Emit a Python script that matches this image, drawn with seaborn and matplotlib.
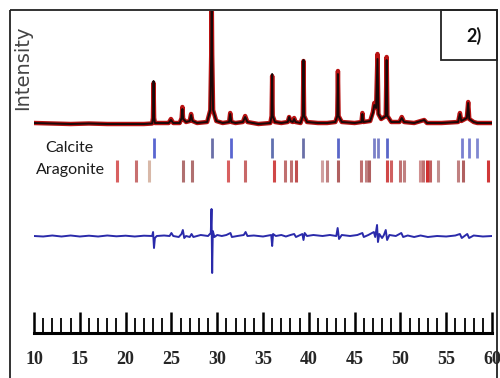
import matplotlib
matplotlib.use("Agg")

import matplotlib.pyplot as plt
from matplotlib.patches import Rectangle
import numpy as np
import pandas as pd
import seaborn as sns

# ── data (2theta in degrees, intensity in arbitrary units) ─────────────────
tth_obs = [10.0, 12.0, 14.0, 16.0, 18.0, 20.0, 22.0, 22.9, 22.99, 23.05, 23.11, 23.2,
           24.7, 24.95, 25.2, 25.9, 26.12, 26.2, 26.28, 26.6, 27.0, 27.15, 27.3, 27.8,
           28.9, 29.25, 29.35, 29.4, 29.45, 29.55, 29.9, 30.6, 31.3, 31.42, 31.55, 32.0,
           32.8, 33.05, 33.3, 34.5, 35.8, 35.94, 36.0, 36.06, 36.3, 37.0, 37.7, 37.85,
           38.0, 38.25, 38.4, 38.55, 39.1, 39.35, 39.42, 39.49, 39.8, 41.0, 42.0, 42.9,
           43.11, 43.18, 43.25, 43.6, 45.0, 45.75, 45.85, 45.95, 46.7, 47.0, 47.15, 47.35,
           47.5, 47.6, 47.9, 48.4, 48.5, 48.58, 49.0, 49.9, 50.15, 50.4, 51.5, 52.6,
           52.9, 54.5, 56.3, 56.5, 56.65, 57.25, 57.4, 57.52, 58.0, 58.4, 60.0]
i_obs = [1, 0.5, 0, 0.5, 0, 0, 0, 0.5, 6, 41, 6, 1,
         1, 5, 1, 1, 6, 17, 5, 2, 3, 10, 3, 1,
         2, 14, 70, 130, 70, 14, 3, 1, 2, 11, 2, 1,
         2, 8, 2, 0, 1, 8, 48, 8, 2, 1, 2, 7,
         3, 2, 6, 2, 1, 8, 63, 8, 2, 1, 1, 2,
         8, 53, 8, 2, 1, 2, 11, 2, 3, 12, 21, 16,
         70, 10, 5, 8, 67, 8, 2, 2, 7, 2, 1, 4,
         1, 1, 2, 11, 3, 6, 22, 5, 2, 1, 1]
i_calc = [1, 0.5, 0, 0.5, 0, 0, 0, 0.5, 6, 43, 6, 1,
          1, 4, 1, 1, 6, 15, 5, 2, 3, 9, 3, 1,
          2, 14, 70, 135, 70, 14, 3, 1, 2, 10, 2, 1,
          2, 7, 2, 0, 1, 8, 50, 8, 2, 1, 2, 7,
          3, 2, 5, 2, 1, 8, 64, 8, 2, 1, 1, 2,
          8, 50, 8, 2, 1, 2, 10, 2, 3, 11, 19, 16,
          65, 10, 5, 8, 64, 8, 2, 2, 6, 2, 1, 4,
          1, 1, 2, 10, 3, 6, 21, 5, 2, 1, 1]

tth_diff = [10.0, 11.0, 12.0, 13.0, 14.0, 15.0, 16.0, 17.0, 18.0, 19.0, 20.0, 21.0,
            22.0, 22.9, 23.0, 23.1, 23.2, 23.4, 24.2, 24.8, 25.0, 25.2, 25.8, 26.1,
            26.25, 26.4, 26.6, 27.0, 27.2, 27.4, 28.2, 29.0, 29.3, 29.38, 29.45, 29.52,
            29.7, 30.0, 30.5, 31.0, 31.45, 31.6, 32.2, 32.9, 33.1, 33.3, 34.0, 35.0,
            35.9, 36.0, 36.1, 36.4, 37.0, 37.5, 38.0, 38.4, 38.6, 39.3, 39.42, 39.55,
            39.8, 40.5, 41.5, 42.3, 43.0, 43.15, 43.3, 43.6, 44.5, 45.3, 45.85, 46.0,
            46.5, 47.1, 47.25, 47.45, 47.55, 47.7, 48.0, 48.2, 48.4, 48.55, 48.8, 49.5,
            50.1, 50.3, 50.8, 51.5, 52.2, 53.0, 54.0, 55.0, 56.0, 56.5, 56.7, 57.3,
            57.5, 58.0, 59.0, 60.0]
i_diff = [0, -0.5, 0.5, -0.5, 0.5, -0.5, 0.3, -0.5, 0.5, -0.3, 0.3, -0.5,
          0.3, 0, 4, -12, -2, 0, 0.5, 0, 3, 0, -1, 2,
          6, -2, 0, -1, 2, -1, 1, 0, 3, 27, -37, 5,
          -1, 1, 0, 1, 3, -1, 0, 1, 4, 0, 0.5, -0.5,
          1, -10, 2, 0, 1, -0.5, 1, 2, -1, 2, -4, 3,
          0, 1, 0, 1, 0, 8, -3, 1, 0, 1, 3, -1,
          1, 4, -1, 11, -6, 2, -2, 1, 6, -4, 1, 0,
          3, -1, 0.5, -1, 0.5, -1, 0, -0.5, 0.5, 2, -2, 2,
          -2, 0.5, -0.5, 0]

calcite_pos = [23.1, 29.4, 31.5, 36.0, 39.4, 43.2, 47.1, 47.5, 48.5, 56.7, 57.5, 58.4]
aragonite_pos = [19.1, 21.1, 22.5, 26.3, 27.3, 31.2, 33.0, 36.2, 37.4, 38.1, 38.6,
                 41.4, 42.0, 43.2, 45.7, 46.2, 46.6, 48.5, 49.0, 50.0, 50.4, 52.1,
                 52.5, 52.9, 53.2, 54.1, 56.3, 56.8, 59.6]
x_ticks = [10, 15, 20, 25, 30, 35, 40, 45, 50, 55, 60]

# ── style ──────────────────────────────────────────────────────────────────
OBS_OFFSET = 209
DIFF_OFFSET = 97
calcite_colors = ["#5a66d0", "#6a6fa8", "#5a66d0", "#6070b0", "#6a70a8", "#5a66c8",
                  "#7a80c8", "#7a80c8", "#5a66c8", "#7a80d0", "#7a80d0", "#8088d0"]
aragonite_colors = ["#d86060", "#c87070", "#d8b8a8", "#b07070", "#b07070", "#d86060",
                    "#c86868", "#d04848", "#c07070", "#c07070", "#c05050", "#d0a0a0",
                    "#c08080", "#b06060", "#c07070", "#c08080", "#b06060", "#d04848",
                    "#d06060", "#c07070", "#c08080", "#d09090", "#c07070", "#d03030",
                    "#c06060", "#c09090", "#c08080", "#b06060", "#d03838"]

sns.set_theme(style="white")
plt.rcParams["font.family"] = ["DejaVu Sans"]

fig = plt.figure(figsize=(5.0, 3.78), dpi=100)
ax = fig.add_axes([34 / 500, 1 - 333 / 378, 458 / 500, 322 / 378])

obs = pd.DataFrame({"tth": tth_obs, "obs": np.array(i_obs) + OBS_OFFSET,
                    "calc": np.array(i_calc) + OBS_OFFSET})
diff = pd.DataFrame({"tth": tth_diff, "diff": np.array(i_diff) + DIFF_OFFSET})

sns.lineplot(data=obs, x="tth", y="obs", ax=ax, color="#b81212", linewidth=3.2,
             estimator=None, sort=False)
sns.lineplot(data=obs, x="tth", y="calc", ax=ax, color="#1a0808", linewidth=1.4,
             estimator=None, sort=False)
sns.lineplot(data=diff, x="tth", y="diff", ax=ax, color="#2a2aaa", linewidth=1.4,
             estimator=None, sort=False)

ax.vlines(calcite_pos, 175, 195, colors=calcite_colors, linewidth=2)
ax.vlines(aragonite_pos, 151, 173, colors=aragonite_colors, linewidth=2.2)

ax.set_xlim(10, 60)
ax.set_ylim(0, 322)
ax.set_xlabel("")
ax.set_ylabel("")
ax.set_yticks([])
ax.set_xticks(x_ticks)
ax.set_xticks(range(10, 61), minor=True)
ax.set_xticklabels([str(v) for v in x_ticks], fontfamily="Liberation Serif",
                   fontweight="bold", fontsize=13)
for side in ["top", "left", "right"]:
    ax.spines[side].set_visible(False)
ax.spines["bottom"].set_linewidth(2.2)
ax.spines["bottom"].set_color("black")
ax.tick_params(axis="x", which="major", direction="in", length=15, width=1.8,
               color="black", pad=13, bottom=True)
ax.tick_params(axis="x", which="minor", direction="in", length=10.5, width=1.3,
               color="black", bottom=True)
ax.patch.set_alpha(0)

# ── overlay: frame, panel tag, labels (pixel coordinates) ──────────────────
ov = fig.add_axes([0, 0, 1, 1], zorder=-1)
ov.set_xlim(0, 500)
ov.set_ylim(378, 0)
ov.axis("off")
ov.add_patch(Rectangle((10, 10), 487, 400, fill=False, edgecolor="#222222", linewidth=1.3))
ov.add_patch(Rectangle((441, 10), 56, 50, fill=False, edgecolor="#222222", linewidth=1.3))
ov.text(474, 36, "2)", ha="center", va="center", fontsize=13, fontweight="bold",
        fontfamily="Lato", color="#111111")
ov.text(23, 68, "Intensity", ha="center", va="center", rotation=90, fontsize=14,
        color="#444444", fontfamily="DejaVu Sans")
ov.text(69, 148, "Calcite", ha="center", va="center", fontsize=11.5,
        fontfamily="Lato", color="#1a1a1a")
ov.text(70, 170, "Aragonite", ha="center", va="center", fontsize=11.5,
        fontfamily="Lato", color="#1a1a1a")

fig.savefig("out.png", dpi=100)
plt.close(fig)
